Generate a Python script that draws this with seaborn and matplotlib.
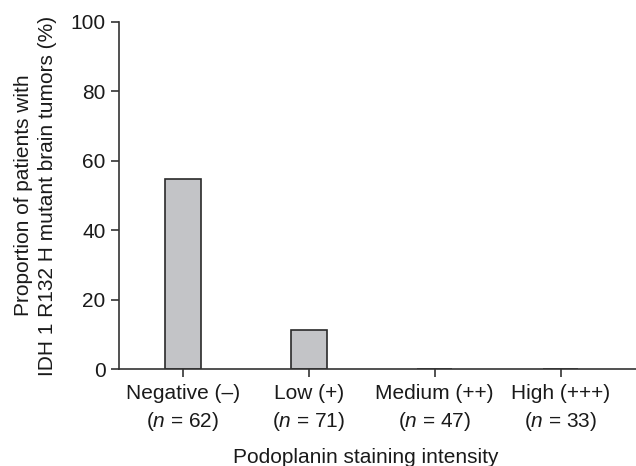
import matplotlib
matplotlib.use("Agg")
import matplotlib.pyplot as plt
import seaborn as sns
import pandas as pd

categories = ["Negative (–)", "Low (+)", "Medium (++)", "High (+++)"]
n_values = [62, 71, 47, 33]
proportions = [54.8, 11.3, 0.0, 0.0]
y_ticks = [0, 20, 40, 60, 80, 100]

sns.set_style("ticks")
plt.rcParams["font.family"] = ["Liberation Sans", "DejaVu Sans"]
plt.rcParams["mathtext.fontset"] = "custom"
plt.rcParams["mathtext.it"] = "Liberation Sans:italic"
plt.rcParams["mathtext.rm"] = "Liberation Sans"

labels = [f"{c}\n($\\mathit{{n}}$ = {n})" for c, n in zip(categories, n_values)]
df = pd.DataFrame({"label": labels, "value": proportions})

FS = 15
fig = plt.figure(figsize=(6.36, 4.66), dpi=100)
ax = fig.add_axes([0.187, 0.208, 0.813, 0.745])
sns.barplot(data=df, x="label", y="value", ax=ax, width=0.28,
            color="#c3c4c7", saturation=1, edgecolor="#2a2a2a", linewidth=1.2)

ax.set_ylim(0, 100)
ax.set_yticks(y_ticks)
ax.set_xlim(-0.51, 3.6)
ax.set_xlabel("Podoplanin staining intensity", fontsize=FS, color="#1a1a1a")
ax.xaxis.set_label_coords(0.478, -0.228)
ax.set_ylabel("Proportion of patients with\nIDH 1 R132 H mutant brain tumors (%)",
              fontsize=FS, labelpad=10, color="#1a1a1a", linespacing=1.3)
ax.tick_params(axis="both", labelsize=FS, length=6, width=1.2, color="#333333", labelcolor="#1a1a1a")
ax.tick_params(axis="x", pad=5)
for t in ax.get_xticklabels():
    t.set_linespacing(1.4)
for s in ["top", "right"]:
    ax.spines[s].set_visible(False)
for s in ["left", "bottom"]:
    ax.spines[s].set_linewidth(1.2)
    ax.spines[s].set_color("#333333")

fig.savefig("out.png", dpi=100)
